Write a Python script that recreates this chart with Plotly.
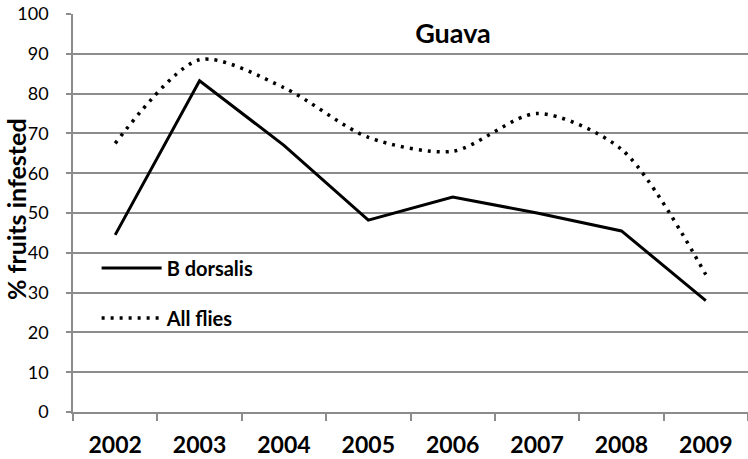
import plotly.graph_objects as go

years = ["2002", "2003", "2004", "2005", "2006", "2007", "2008", "2009"]
b_dorsalis = [44.5, 83.2, 67.0, 48.2, 54.0, 50.0, 45.5, 28.0]
all_flies = [67.5, 88.5, 81.5, 69.0, 65.5, 75.0, 66.0, 34.5]
y_ticks = [0, 10, 20, 30, 40, 50, 60, 70, 80, 90, 100]

FONT = "Lato"
grid = "#8c8c8c"

fig = go.Figure()
fig.add_trace(go.Scatter(
    x=years, y=b_dorsalis, name="<b>B dorsalis</b>", mode="lines", showlegend=True,
    line=dict(color="black", width=3), legend="legend"))
fig.add_trace(go.Scatter(
    x=years, y=all_flies, name="<b>All flies</b>", mode="lines", showlegend=True,
    line=dict(color="black", width=3.5, dash="3px,6px", shape="spline", smoothing=0.8),
    legend="legend2"))

legend_common = dict(
    bgcolor="rgba(0,0,0,0)", font=dict(family=FONT, size=20, color="black"),
    xanchor="left", yanchor="middle", x=0.035, visible=True, itemwidth=60)
fig.update_layout(
    width=748, height=459, showlegend=True,
    margin=dict(l=73, r=0, t=14, b=47, autoexpand=False),
    paper_bgcolor="white", plot_bgcolor="white",
    title=dict(text="<b>Guava</b>", font=dict(family=FONT, size=27, color="black"),
               x=0.563, xref="paper", xanchor="center",
               y=1 - 34 / 459, yref="container", yanchor="middle"),
    legend=dict(y=(412 - 268) / 398, **legend_common),
    legend2=dict(y=(412 - 318) / 398, **legend_common),
    xaxis=dict(
        type="category", tickson="boundaries", ticks="outside", ticklen=7,
        tickcolor=grid, tickwidth=1.5, showline=True, linecolor=grid, linewidth=1.5,
        showgrid=False, tickfont=dict(family=FONT, size=23, color="black"),
        tickprefix="<b>", ticksuffix="</b>", range=[-0.5, 7.5], automargin=False,
        ticklabelstandoff=12, ticklabeloverflow="allow"),
    yaxis=dict(
        range=[0, 100], tickvals=y_ticks, ticks="outside", ticklen=5,
        tickcolor=grid, tickwidth=1.5, showline=True, linecolor=grid, linewidth=1.5,
        showgrid=True, gridcolor=grid, gridwidth=1.5, zeroline=False,
        tickfont=dict(family=FONT, size=18, color="black"),
        tickprefix="<b>", ticksuffix="</b>", ticklabelstandoff=14, automargin=False,
        ticklabeloverflow="allow"),
    annotations=[dict(
        text="<b>% fruits infested</b>", textangle=-90, showarrow=False,
        xref="paper", yref="paper", x=0, y=(412 - 209) / 398,
        xanchor="center", yanchor="middle", xshift=-57,
        font=dict(family=FONT, size=25, color="black"))],
)
fig.write_html("out.html", config={"displayModeBar": False},
               post_script="document.body.style.margin='0';")
